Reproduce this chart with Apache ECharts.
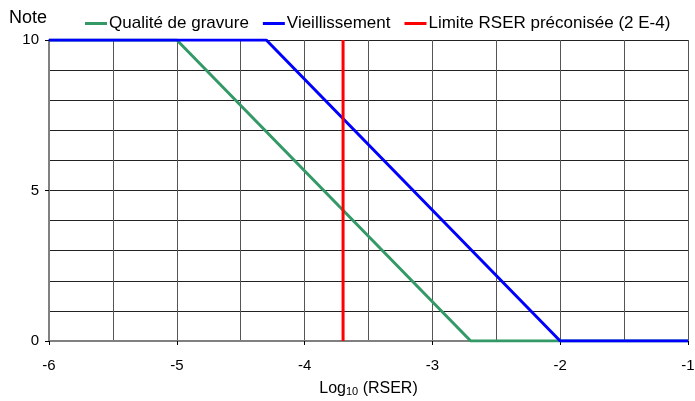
<!DOCTYPE html>
<html><head><meta charset="utf-8">
<script src="https://cdn.jsdelivr.net/npm/echarts@6/dist/echarts.min.js"></script>
<style>html,body{margin:0;padding:0;background:#fff}#c{width:695px;height:401px}</style>
</head><body><div id="c"></div>
<script>
const seriesNames = ['Qualité de gravure', 'Vieillissement', 'Limite RSER préconisée (2 E-4)'];
const greenX = [-6, -5, -2.7, -1];
const greenY = [10, 10, 0, 0];
const blueX = [-6, -4.3, -2, -1];
const blueY = [10, 10, 0, 0];
const redX = [-3.699, -3.699];
const redY = [0, 10];
const zip = (a, b) => a.map((v, i) => [v, b[i]]);
const font = '"Liberation Sans", Arial, sans-serif';
const chart = echarts.init(document.getElementById('c'), null, {renderer: 'canvas'});
chart.setOption({
  animation: false,
  backgroundColor: '#fff',
  textStyle: {fontFamily: font},
  title: {text: 'Note', left: 4, top: 4, textStyle: {fontFamily: font, fontSize: 18, fontWeight: 'normal', color: '#000'}},
  legend: {
    left: 80, top: 10, itemWidth: 22, itemHeight: 3, itemGap: 14, icon: 'rect',
    textStyle: {fontFamily: font, fontSize: 17, color: '#000', padding: [0, 0, 0, -3]},
    data: seriesNames
  },
  grid: {left: 49, right: 7, top: 40, bottom: 60, outerBoundsMode: 'none', containLabel: false},
  xAxis: {
    type: 'value', min: -6, max: -1, interval: 1,
    name: '{a|Log}{b|10}{a| (RSER)}', nameLocation: 'middle', nameGap: 40,
    nameTextStyle: {rich: {a: {fontFamily: font, fontSize: 16, color: '#000'}, b: {fontFamily: font, fontSize: 11, color: '#000', verticalAlign: 'bottom', padding: [5, 0, 0, 0]}}},
    axisLine: {onZero: false, lineStyle: {color: '#808080', width: 2}},
    axisTick: {show: true, length: 4, lineStyle: {color: '#000'}},
    axisLabel: {fontFamily: font, fontSize: 15, color: '#000', margin: 17},
    splitLine: {show: true, lineStyle: {color: '#555', width: 1}},
    minorTick: {show: false, splitNumber: 2},
    minorSplitLine: {show: true, lineStyle: {color: '#555', width: 1}}
  },
  yAxis: {
    type: 'value', min: 0, max: 10, interval: 5,
    axisLine: {show: true, lineStyle: {color: '#808080', width: 2}},
    axisTick: {show: true, length: 4, lineStyle: {color: '#000'}},
    axisLabel: {fontFamily: font, fontSize: 15, color: '#000', margin: 10},
    splitLine: {show: true, lineStyle: {color: '#222', width: 1}},
    minorTick: {show: false, splitNumber: 5},
    minorSplitLine: {show: true, lineStyle: {color: '#222', width: 1}}
  },
  series: [
    {name: seriesNames[0], type: 'line', data: zip(greenX, greenY), symbol: 'none', color: '#339966', lineStyle: {width: 3, color: '#339966'}},
    {name: seriesNames[1], type: 'line', data: zip(blueX, blueY), symbol: 'none', color: '#0000ff', lineStyle: {width: 3, color: '#0000ff'}},
    {name: seriesNames[2], type: 'line', data: zip(redX, redY), symbol: 'none', color: '#ff0000', lineStyle: {width: 3, color: '#ff0000'}}
  ]
});
</script></body></html>
